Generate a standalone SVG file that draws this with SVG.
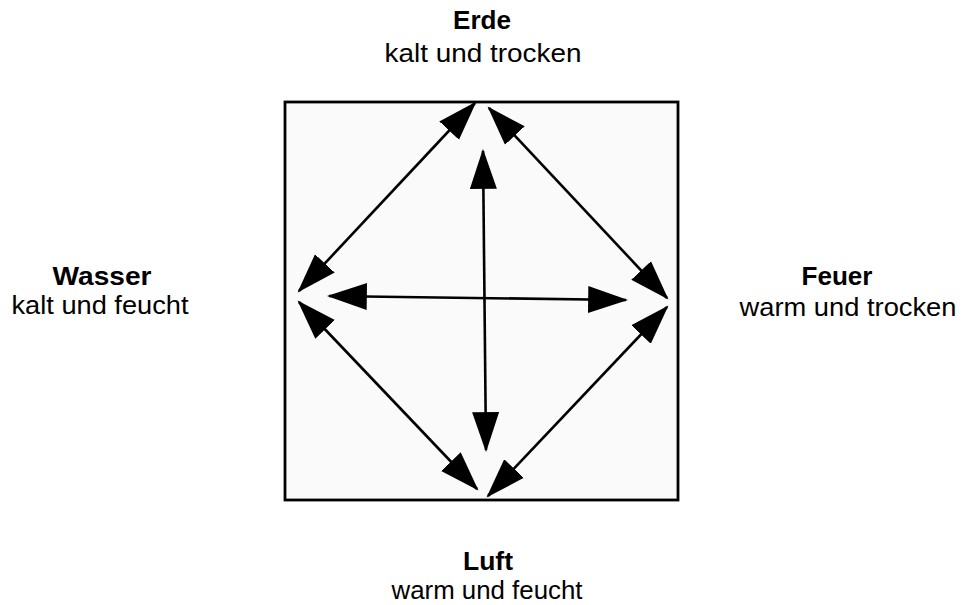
<svg xmlns="http://www.w3.org/2000/svg" width="962" height="605" viewBox="0 0 962 605">
<style>
text{font-family:"Liberation Sans",Arial,Helvetica,sans-serif;font-size:26px;fill:#000;text-anchor:middle}
.b{font-weight:bold}
.c{stroke:#000;stroke-width:2.6;fill:none;marker-start:url(#ah);marker-end:url(#ah)}
</style>
<defs>
<marker id="ah" markerUnits="userSpaceOnUse" markerWidth="40" markerHeight="28" refX="35" refY="12.5" orient="auto-start-reverse" viewBox="0 0 37 25">
<path d="M0,0 L37,12.5 L0,25 z" fill="#000"/>
</marker>
</defs>
<rect width="962" height="605" fill="#fff"/>
<rect id="frame" x="285" y="102" width="393" height="398" fill="#fafafa" stroke="#000" stroke-width="2.8"/>
<g id="connectors">
<line class="c" x1="299" y1="291" x2="475" y2="103"/>
<line class="c" x1="489" y1="108" x2="667" y2="298"/>
<line class="c" x1="299" y1="302" x2="477" y2="489"/>
<line class="c" x1="667" y1="307" x2="488" y2="496"/>
<line class="c" x1="486" y1="450" x2="483" y2="151"/>
<line class="c" x1="329" y1="296" x2="626" y2="300"/>
</g>
<g id="erde">
<text class="b" x="482" y="29" textLength="58" lengthAdjust="spacingAndGlyphs">Erde</text>
<text x="483" y="62" textLength="197" lengthAdjust="spacingAndGlyphs">kalt und trocken</text>
</g>
<g id="wasser">
<text class="b" x="102" y="285" textLength="99" lengthAdjust="spacingAndGlyphs">Wasser</text>
<text x="100" y="314" textLength="177" lengthAdjust="spacingAndGlyphs">kalt und feucht</text>
</g>
<g id="feuer">
<text class="b" x="837" y="285" textLength="71" lengthAdjust="spacingAndGlyphs">Feuer</text>
<text x="848" y="316" textLength="217" lengthAdjust="spacingAndGlyphs">warm und trocken</text>
</g>
<g id="luft">
<text class="b" x="488" y="570" textLength="50" lengthAdjust="spacingAndGlyphs">Luft</text>
<text x="487" y="599" textLength="191" lengthAdjust="spacingAndGlyphs">warm und feucht</text>
</g>
</svg>
